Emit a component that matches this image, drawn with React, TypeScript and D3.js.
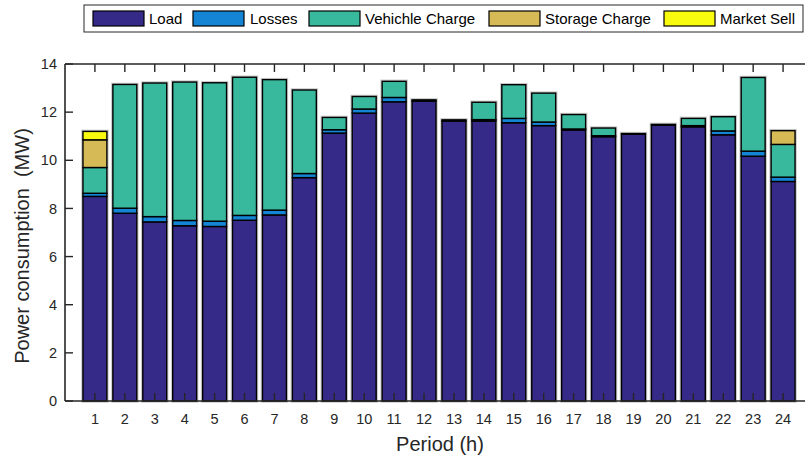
import React from "react";
import * as d3 from "d3";

// Hourly power consumption by component (MW)
const periods = d3.range(1, 25);
const load = [8.5, 7.8, 7.44, 7.28, 7.25, 7.51, 7.73, 9.28, 11.13, 11.96, 12.43, 12.46, 11.63, 11.63, 11.56, 11.44, 11.26, 10.98, 11.08, 11.46, 11.39, 11.06, 10.17, 9.12];
const losses = [0.13, 0.21, 0.22, 0.22, 0.22, 0.2, 0.2, 0.17, 0.14, 0.17, 0.18, 0.05, 0.05, 0.06, 0.18, 0.15, 0.04, 0.04, 0.03, 0.03, 0.05, 0.16, 0.21, 0.18];
const vehicleCharge = [1.07, 5.14, 5.55, 5.75, 5.75, 5.74, 5.42, 3.47, 0.51, 0.52, 0.67, 0, 0, 0.72, 1.4, 1.2, 0.6, 0.32, 0, 0, 0.3, 0.59, 3.06, 1.36];
const storageCharge = [1.15, 0, 0, 0, 0, 0, 0, 0, 0, 0, 0, 0, 0, 0, 0, 0, 0, 0, 0, 0, 0, 0, 0, 0.57];
const marketSell = [0.35, 0, 0, 0, 0, 0, 0, 0, 0, 0, 0, 0, 0, 0, 0, 0, 0, 0, 0, 0, 0, 0, 0, 0];

const seriesNames = ["Load", "Losses", "Vehichle Charge", "Storage Charge", "Market Sell"];
const seriesColors = ["#352a87", "#1484d4", "#38b99e", "#d6ba56", "#f9fb0e"];
const yTicks = [0, 2, 4, 6, 8, 10, 12, 14];

const W = 805;
const H = 461;
const margin = { left: 65, top: 64, bottom: 401 };
const plotRight = 813;
const font = "'Liberation Sans', Arial, Helvetica, sans-serif";
const textColor = "#262626";

export default function App() {
  const x = d3.scaleLinear().domain([0, 25]).range([margin.left, plotRight]);
  const y = d3.scaleLinear().domain([0, 14]).range([margin.bottom, margin.top]);
  const barW = (x(1) - x(0)) * 0.8;

  const table = periods.map((p, i) => ({
    period: p,
    Load: load[i],
    Losses: losses[i],
    "Vehichle Charge": vehicleCharge[i],
    "Storage Charge": storageCharge[i],
    "Market Sell": marketSell[i],
  }));
  const stacked = d3.stack<any>().keys(seriesNames)(table);

  // legend layout: swatch and label x positions
  const legend = [
    { sx: 93, tx: 149 },
    { sx: 193, tx: 250 },
    { sx: 309, tx: 365 },
    { sx: 489, tx: 545 },
    { sx: 664, tx: 720 },
  ];

  return (
    <svg
      width={W}
      height={H}
      style={{ position: "absolute", left: 0, top: 0, overflow: "hidden", background: "#fff" }}
      fontFamily={font}
    >
      <rect x={0} y={0} width={W} height={H} fill="#fff" />
      {/* bars */}
      {periods.map((p, i) => (
        <rect
          key={"halo" + p}
          x={x(p) - barW / 2}
          y={y(stacked[stacked.length - 1][i][1])}
          width={barW}
          height={y(0) - y(stacked[stacked.length - 1][i][1])}
          fill="none"
          stroke="rgba(0,0,0,0.22)"
          strokeWidth={3.5}
        />
      ))}
      {stacked.map((layer, si) =>
        layer.map((d, i) => (
          <rect
            key={si + "-" + i}
            x={x(periods[i]) - barW / 2}
            y={y(d[1])}
            width={barW}
            height={Math.max(0, y(d[0]) - y(d[1]))}
            fill={seriesColors[si]}
            stroke="#000"
            strokeWidth={1.4}
          />
        ))
      )}

      {/* axes box */}
      <line x1={margin.left} x2={margin.left} y1={margin.top} y2={margin.bottom} stroke={textColor} strokeWidth={1.6} />
      <line x1={margin.left} x2={plotRight} y1={margin.bottom} y2={margin.bottom} stroke={textColor} strokeWidth={1.6} />
      <line x1={margin.left} x2={plotRight} y1={margin.top} y2={margin.top} stroke={textColor} strokeWidth={1.6} />
      {yTicks.map((t) => (
        <g key={"y" + t}>
          <line x1={margin.left} x2={margin.left + 8} y1={y(t)} y2={y(t)} stroke={textColor} strokeWidth={1.4} />
          <text x={margin.left - 8} y={y(t)} dy="0.35em" textAnchor="end" fontSize={14.5} fill={textColor}>
            {t}
          </text>
        </g>
      ))}
      {periods.map((p) => (
        <g key={"x" + p}>
          <line x1={x(p)} x2={x(p)} y1={margin.bottom} y2={margin.bottom - 8} stroke={textColor} strokeWidth={1.4} />
          <line x1={x(p)} x2={x(p)} y1={margin.top} y2={margin.top + 8} stroke={textColor} strokeWidth={1.4} />
          <text x={x(p)} y={margin.bottom + 22.5} textAnchor="middle" fontSize={14.5} fill={textColor}>
            {p}
          </text>
        </g>
      ))}

      {/* axis titles */}
      <text x={440} y={451} textAnchor="middle" fontSize={20} fill={textColor}>
        Period (h)
      </text>
      <text
        transform={`translate(29, 246) rotate(-90)`}
        textAnchor="middle"
        fontSize={20}
        fill={textColor}
        style={{ whiteSpace: "pre" }}
      >
        {"Power consumption  (MW)"}
      </text>

      {/* legend */}
      <rect x={84} y={5} width={719} height={27} fill="#fff" stroke={textColor} strokeWidth={1} />
      {seriesNames.map((name, i) => (
        <g key={name}>
          <rect x={legend[i].sx} y={11} width={51} height={15} fill={seriesColors[i]} stroke="#000" strokeWidth={1.2} />
          <text x={legend[i].tx} y={18.5} dy="0.36em" fontSize={15} fill="#000">
            {name}
          </text>
        </g>
      ))}
    </svg>
  );
}
